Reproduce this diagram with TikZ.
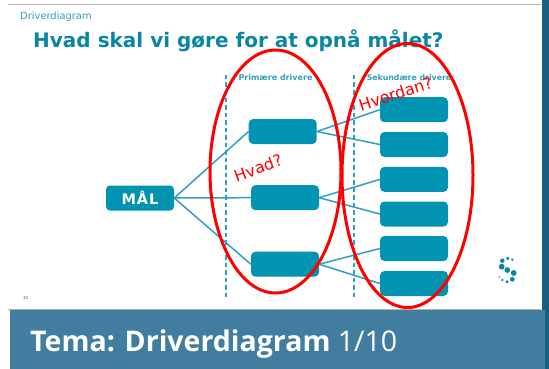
\documentclass[tikz,border=0pt]{standalone}
\usepackage{fontspec}
\setmainfont{DejaVu Sans}
\newfontfamily\banfont{Open Sans}
\definecolor{teal1}{HTML}{0093B2}
\definecolor{teal2}{HTML}{0A86A3}
\definecolor{linec}{HTML}{2FA0BD}
\definecolor{banner}{HTML}{417D9E}
\definecolor{darkband}{HTML}{1A5F80}
\definecolor{redc}{HTML}{FF0000}
\tikzset{
  goalbox/.style={fill=teal1,rounded corners=4pt,minimum width=68pt,minimum height=25pt,inner sep=0pt,text=white,font=\bfseries\fontsize{14.5}{15}\selectfont},
  secbox/.style={fill=teal1,rounded corners=4.5pt,minimum width=68pt,minimum height=25pt,inner sep=0pt},
  conn/.style={draw=linec,line width=1.5pt},
  divider/.style={draw=linec,line width=1.7pt,dash pattern=on 4.5pt off 3pt},
  ring/.style={draw=redc,line width=3pt},
  heading/.style={text=linec,font=\bfseries\fontsize{8}{8}\selectfont,inner sep=0pt},
  redtext/.style={text=redc,inner sep=0pt,font=\fontsize{16}{16}\selectfont},
  dot/.style={fill=teal2,draw=none,circle,inner sep=0pt}
}
\begin{document}
\begin{tikzpicture}[x=1pt,y=-1pt]
\useasboundingbox (0,0) rectangle (549,369);
\fill[white] (0,0) rectangle (549,369);
\fill[darkband] (542,0) rectangle (549,369);
\draw[black!30,line width=.8pt] (8,4.5) -- (541,4.5);
\draw[black!30,line width=.8pt] (8,309.6) -- (541,309.6);
\fill[banner] (10,310) rectangle (545,369);
\node[anchor=west,inner sep=0pt,text=linec,font=\fontsize{9.9}{10}\selectfont] (crumb) at (20,16.5) {Driverdiagram};
\node[anchor=west,inner sep=0pt,text=teal2,font=\bfseries\fontsize{20}{21}\selectfont] (title) at (33,40.5) {Hvad skal vi gøre for at opnå målet?};
\node[anchor=center,inner sep=0pt,text=black!70,font=\fontsize{4}{4}\selectfont] (pg) at (26,298) {41};
\node[heading] (h1) at (275.5,78) {Primære drivere};
\node[heading,font=\bfseries\fontsize{7.8}{8}\selectfont] (h2) at (409,78) {Sekundære drivere};
\coordinate (d1t) at (226,75); \coordinate (d1b) at (226,299);
\coordinate (d2t) at (354,75); \coordinate (d2b) at (354,299);
\draw[divider] (d1t) -- (d1b);
\draw[divider] (d2t) -- (d2b);
\node[goalbox] (goal) at (140,198) {M\kern1pt Å\kern1pt L};
\node[secbox] (p1) at (282.7,131.5) {};
\node[secbox] (p2) at (285,197.7) {};
\node[secbox] (p3) at (285,264.2) {};
\node[secbox] (s1) at (414,109.7) {};
\node[secbox] (s2) at (414,144.5) {};
\node[secbox] (s3) at (414,179.4) {};
\node[secbox] (s4) at (414,214) {};
\node[secbox] (s5) at (414,248.5) {};
\node[secbox] (s6) at (414,283.5) {};
\foreach \a/\b in {goal/p1,goal/p2,goal/p3,p1/s1,p1/s2,p2/s3,p2/s4,p3/s5,p3/s6}
  \draw[conn] (\a.east) -- (\b.west);
\foreach \px/\py/\r in {507.3/270/5.8,501.7/266.7/5.8,502.3/260.7/4.5,507.7/258.3/3.5,512.3/259.7/2.6,513.7/273/5.8,512.3/279.3/4.8,507/281.7/3.2,502.3/280/2.6,499.3/277/1.6}
  \node[dot,minimum size=\r pt] at (\px,\py) {};
\draw[ring] (275.5,171.5) ellipse [x radius=65.5pt,y radius=121.5pt];
\draw[ring] (407.5,175.5) ellipse [x radius=65.5pt,y radius=132pt];
\node[redtext,rotate=20] (q1) at (258,168) {Hvad?};
\node[redtext,rotate=18] (q2) at (395.5,94) {Hvordan?};
\node[anchor=base west,inner sep=0pt,text=white,font=\banfont\fontsize{28.5}{29}\selectfont] (ban) at (30,351) {\textbf{Tema: Driverdiagram} 1/10};
\end{tikzpicture}
\end{document}
